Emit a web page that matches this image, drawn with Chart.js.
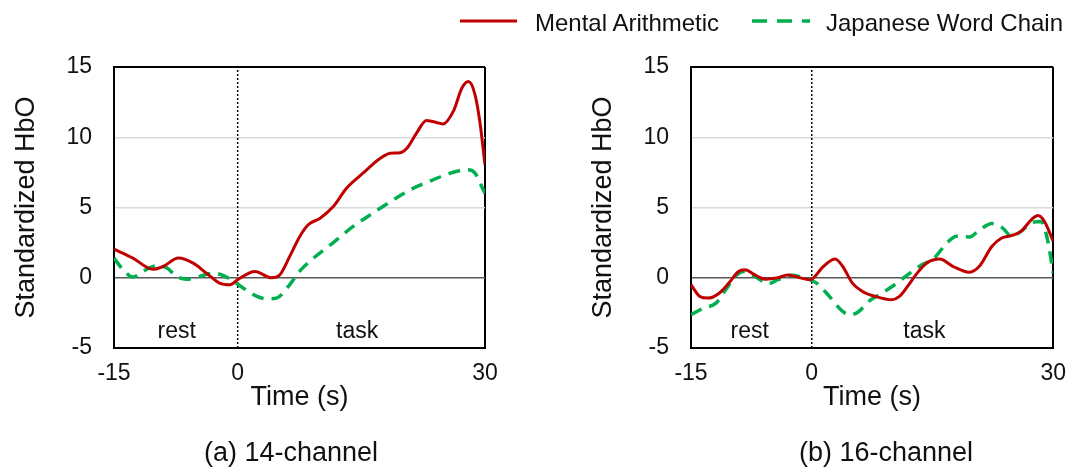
<!DOCTYPE html>
<html>
<head>
<meta charset="utf-8">
<script src="https://cdn.jsdelivr.net/npm/chart.js@4.4.0/dist/chart.umd.min.js"></script>
<style>
  body { margin: 0; background: #fff; }
  #wrap { position: relative; width: 1078px; height: 471px; overflow: hidden; }
  .pane { position: absolute; top: 0; width: 539px; height: 471px; }
  #overlay { position: absolute; left: 0; top: 0; pointer-events: none; }
  #overlay text { font-family: "Liberation Sans", Arial, sans-serif; fill: #111; }
</style>
</head>
<body>
<div id="wrap">
  <div class="pane" style="left:0"><canvas id="ch14" width="539" height="471"></canvas></div>
  <div class="pane" style="left:539px"><canvas id="ch16" width="539" height="471"></canvas></div>
  <svg id="overlay" width="1078" height="471">
    <line x1="460" y1="21" x2="517" y2="21" stroke="#c00000" stroke-width="3"/>
    <text x="535" y="31" font-size="24">Mental Arithmetic</text>
    <line x1="752" y1="21" x2="810" y2="21" stroke="#00b050" stroke-width="3.5" stroke-dasharray="15 10"/>
    <text x="826" y="31" font-size="24">Japanese Word Chain</text>
    <text x="291" y="461" font-size="27" text-anchor="middle">(a) 14-channel</text>
    <text x="886" y="461" font-size="27" text-anchor="middle">(b) 16-channel</text>
  </svg>
</div>
<script>
// tick labels
var xTicks = [-15, 0, 30];
var yMin = -5, yMax = 15, yStep = 5;

// (a) 14-channel
var ch14MentalT = [-15, -12.7, -10.3, -9.05, -7.2, -5.4, -3.8, -2.2, -0.96, 0.1, 2.1, 4.1, 5.1, 6.3, 7.5, 8.55, 10, 11.6, 13.2, 15.2, 17.3, 18.5, 19.7, 20.5, 21.7, 22.9, 23.75, 24.9, 26.2, 27.2, 28, 28.8, 29.4, 30];
var ch14MentalY = [2.04, 1.4, 0.6, 0.8, 1.4, 1.04, 0.33, -0.38, -0.5, -0.1, 0.45, 0.0, 0.2, 1.5, 2.9, 3.77, 4.24, 5.07, 6.37, 7.44, 8.5, 8.86, 8.9, 9.2, 10.3, 11.2, 11.1, 10.95, 11.9, 13.5, 13.96, 13.0, 11.0, 8.03];
var ch14WordT = [-15, -13.9, -12.7, -11.5, -9.9, -8.6, -7.4, -6.2, -4.6, -3.0, -1.35, 0.1, 1.9, 3.5, 4.7, 6.3, 7.5, 9.2, 11.6, 14.0, 16.4, 18.9, 21.3, 23.7, 25.75, 27.8, 28.8, 29.4, 30];
var ch14WordY = [1.4, 0.57, 0.05, 0.45, 0.85, 0.7, 0.1, -0.1, 0.1, 0.33, 0.05, -0.5, -1.2, -1.5, -1.45, -0.5, 0.45, 1.4, 2.5, 3.65, 4.6, 5.55, 6.37, 6.97, 7.44, 7.68, 7.44, 6.73, 6.0];

// (b) 16-channel
var ch16MentalT = [-15, -13.9, -12.9, -11.5, -10.3, -9.1, -8.3, -7.05, -5.8, -4.2, -3.0, -1.8, -0.2, 1.45, 2.9, 3.85, 5.05, 6.3, 7.9, 9.9, 10.9, 11.9, 13.1, 14.3, 15.9, 17.6, 19.6, 20.8, 22.4, 23.6, 24.8, 26.0, 27.3, 28.1, 28.9, 30];
var ch16MentalY = [-0.5, -1.33, -1.45, -1.1, -0.38, 0.45, 0.57, 0.2, -0.1, 0.0, 0.2, 0.05, -0.14, 0.8, 1.33, 0.8, -0.38, -0.98, -1.33, -1.57, -1.33, -0.62, 0.33, 1.05, 1.33, 0.8, 0.4, 0.8, 2.24, 2.83, 3.0, 3.3, 4.14, 4.43, 4.02, 2.6];
var ch16WordT = [-15, -13.5, -11.9, -10.7, -9.5, -8.45, -7.05, -5.4, -4.2, -2.6, -1.0, 0.6, 2.2, 3.85, 4.85, 5.85, 7.05, 8.7, 10.3, 11.9, 13.5, 15.2, 16.8, 18.0, 19.6, 20.8, 22.4, 23.7, 24.8, 26.0, 27.3, 28.5, 29.3, 30];
var ch16WordY = [-2.64, -2.17, -1.81, -0.86, 0.1, 0.45, 0.1, -0.43, -0.14, 0.17, 0.0, -0.38, -1.33, -2.4, -2.64, -2.4, -1.69, -1.1, -0.5, 0.2, 0.86, 1.4, 2.48, 2.95, 2.9, 3.38, 3.86, 3.55, 2.95, 3.3, 3.9, 4.0, 2.7, 0.33];

Chart.defaults.font.family = '"Liberation Sans", Arial, sans-serif';
Chart.defaults.color = '#111';

function pts(t, y) {
  return t.map(function (v, i) { return { x: v, y: y[i] }; });
}

// "rest" / "task" labels inside the plot
var phaseText = {
  id: 'phaseText',
  afterDatasetsDraw: function (chart, args, opts) {
    var ctx = chart.ctx;
    var xs = chart.scales.x, ys = chart.scales.y;
    ctx.save();
    ctx.font = '23px "Liberation Sans", Arial, sans-serif';
    ctx.fillStyle = '#111';
    ctx.textAlign = 'center';
    ctx.textBaseline = 'middle';
    opts.items.forEach(function (it) {
      ctx.fillText(it.text, xs.getPixelForValue(it.x), ys.getPixelForValue(it.y));
    });
    ctx.restore();
  }
};

function makeChart(id, mental, word, pad, items) {
  return new Chart(document.getElementById(id), {
    type: 'line',
    data: {
      datasets: [{
        label: 'Mental Arithmetic',
        data: mental,
        borderColor: '#c00000',
        borderWidth: 3,
        pointRadius: 0,
        cubicInterpolationMode: 'monotone'
      }, {
        label: 'Japanese Word Chain',
        data: word,
        borderColor: '#00b050',
        borderWidth: 3.5,
        borderDash: [12, 8],
        pointRadius: 0,
        cubicInterpolationMode: 'monotone'
      }, {
        label: 'onset',
        data: [{ x: 0, y: yMin }, { x: 0, y: yMax }],
        borderColor: '#000',
        borderWidth: 1.5,
        borderDash: [2, 2],
        pointRadius: 0
      }]
    },
    options: {
      responsive: false,
      animation: false,
      layout: { padding: pad },
      plugins: {
        legend: { display: false },
        tooltip: { enabled: false },
        phaseText: { items: items }
      },
      scales: {
        x: {
          type: 'linear',
          min: -15,
          max: 30,
          afterBuildTicks: function (s) { s.ticks = xTicks.map(function (v) { return { value: v }; }); },
          afterFit: function (s) { s.height = 66; },
          ticks: { font: { size: 23 }, color: '#111', padding: 12 },
          grid: {
            drawTicks: false,
            lineWidth: 2,
            color: function (c) { return c.tick && c.tick.value === 30 ? '#000' : 'rgba(0,0,0,0)'; }
          },
          border: { color: '#000', width: 2 },
          title: { display: true, text: 'Time (s)', font: { size: 27 }, color: '#111', padding: 0 }
        },
        y: {
          min: yMin,
          max: yMax,
          afterFit: function (s) { s.width = 104; },
          ticks: { stepSize: yStep, font: { size: 23 }, color: '#111', padding: 22 },
          grid: {
            drawTicks: false,
            lineWidth: function (c) { return c.tick && c.tick.value === 15 ? 2 : 1.5; },
            color: function (c) {
              var v = c.tick ? c.tick.value : null;
              if (v === 0) return '#595959';
              if (v === 15) return '#000';
              if (v === -5) return 'rgba(0,0,0,0)';
              return '#d9d9d9';
            }
          },
          border: { color: '#000', width: 2 },
          title: { display: true, text: 'Standardized HbO', font: { size: 27 }, color: '#111', padding: 0 }
        }
      }
    },
    plugins: [phaseText]
  });
}

makeChart('ch14', pts(ch14MentalT, ch14MentalY), pts(ch14WordT, ch14WordY),
  { left: 10, right: 54, top: 67, bottom: 57 },
  [{ text: 'rest', x: -7.4, y: -3.84 }, { text: 'task', x: 14.5, y: -3.84 }]);

makeChart('ch16', pts(ch16MentalT, ch16MentalY), pts(ch16WordT, ch16WordY),
  { left: 48, right: 15, top: 67, bottom: 57 },
  [{ text: 'rest', x: -7.7, y: -3.84 }, { text: 'task', x: 14.0, y: -3.84 }]);
</script>
</body>
</html>
